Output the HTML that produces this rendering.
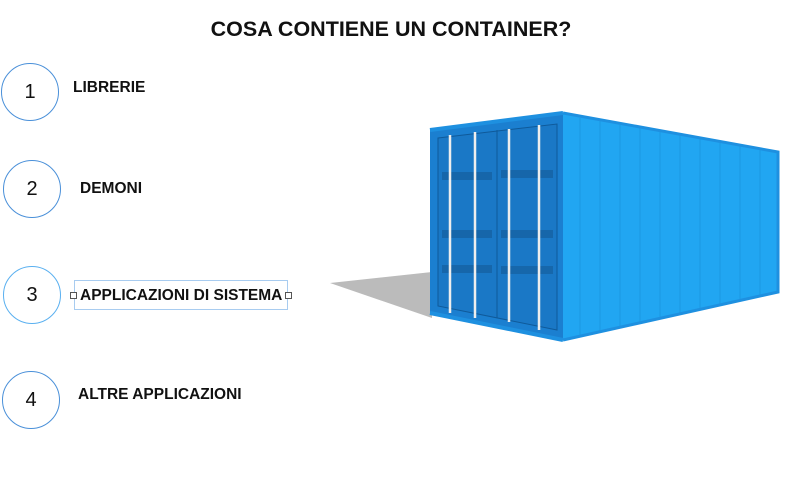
<!DOCTYPE html>
<html><head><meta charset="utf-8"><style>
body{margin:0;width:800px;height:480px;background:#fff;position:relative;overflow:hidden;font-family:"Liberation Sans",Arial,sans-serif}
.t{position:absolute;font-weight:bold;color:#111}
.c{position:absolute;width:58px;height:58px;border:1.5px solid #4a90d9;border-radius:50%;box-sizing:border-box;display:flex;align-items:center;justify-content:center;font-size:20px;color:#111}
</style></head><body>
<div class="t" style="left:0;width:782px;text-align:center;top:17px;font-size:21.5px">COSA CONTIENE UN CONTAINER?</div>
<div class="c" style="left:1px;top:63px">1</div>
<div class="c" style="left:3px;top:160px">2</div>
<div class="c" style="left:3px;top:266px;border-color:#5ab0f0">3</div>
<div class="c" style="left:2px;top:371px">4</div>
<div class="t" style="left:73px;top:79px;font-size:15.5px">LIBRERIE</div>
<div class="t" style="left:80px;top:180px;font-size:15.5px">DEMONI</div>
<div style="position:absolute;left:74px;top:280px;width:214px;height:30px;border:1px solid #a8ccf0;box-sizing:border-box"></div>
<div style="position:absolute;left:70px;top:292px;width:5px;height:5px;border:1px solid #555;background:#fff"></div>
<div style="position:absolute;left:285px;top:292px;width:5px;height:5px;border:1px solid #555;background:#fff"></div>
<div class="t" style="left:80px;top:287px;font-size:15.5px">APPLICAZIONI DI SISTEMA</div>
<div class="t" style="left:78px;top:386px;font-size:15.5px">ALTRE APPLICAZIONI</div>
<svg style="position:absolute;left:0;top:0" width="800" height="480">
<polygon points="330,283 432,272 432,318" fill="#bbb"/>
<polygon points="563,113 778,152 778,292 563,340" fill="#21a6f2"/>
<g stroke="#1a8fd8" stroke-width="1" opacity="0.6">
<line x1="580" y1="118" x2="580" y2="336"/><line x1="600" y1="121" x2="600" y2="332"/><line x1="620" y1="125" x2="620" y2="327"/><line x1="640" y1="128" x2="640" y2="323"/><line x1="660" y1="132" x2="660" y2="318"/><line x1="680" y1="135" x2="680" y2="314"/><line x1="700" y1="139" x2="700" y2="309"/><line x1="720" y1="142" x2="720" y2="305"/><line x1="740" y1="146" x2="740" y2="300"/><line x1="760" y1="149" x2="760" y2="296"/></g>
<polyline points="563,113 778,152 778,292 563,340" fill="none" stroke="#1e90e0" stroke-width="3"/>
<polygon points="430,130 563,113 563,340 430,313" fill="#1b7fd0"/>
<polygon points="438,138 557,124 557,330 438,306" fill="#1a78c6" stroke="#0f5a9a" stroke-width="1"/>
<line x1="497" y1="130" x2="497" y2="318" stroke="#0f5a9a"/>
<g fill="#155f9f" opacity="0.7"><rect x="442" y="172" width="50" height="8"/><rect x="501" y="170" width="52" height="8"/><rect x="442" y="230" width="50" height="8"/><rect x="501" y="230" width="52" height="8"/><rect x="442" y="265" width="50" height="8"/><rect x="501" y="266" width="52" height="8"/></g>
<g stroke="#eee" stroke-width="2.5"><line x1="450" y1="135" x2="450" y2="313"/><line x1="475" y1="132" x2="475" y2="318"/><line x1="509" y1="129" x2="509" y2="322"/><line x1="539" y1="125" x2="539" y2="330"/></g>
<line x1="430" y1="130" x2="563" y2="113" stroke="#1e90e0" stroke-width="4"/>
<line x1="430" y1="313" x2="563" y2="340" stroke="#1e90e0" stroke-width="4"/>
</svg>
</body></html>
